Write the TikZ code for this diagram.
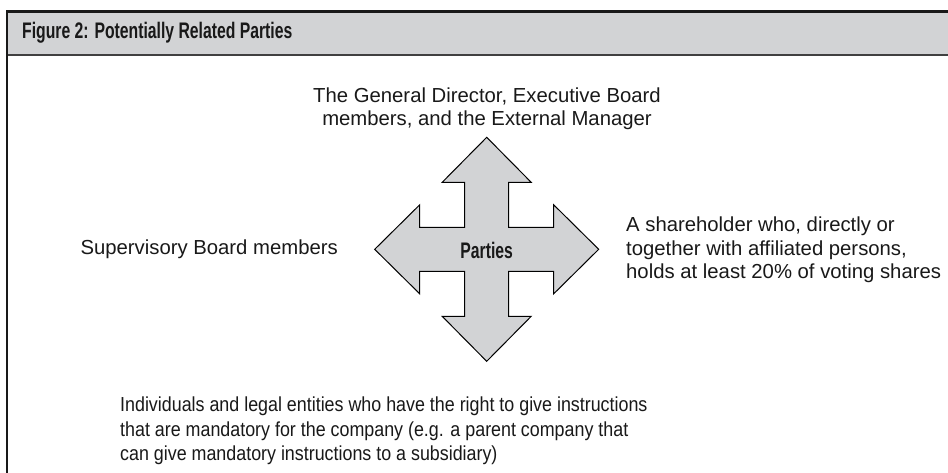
\documentclass[tikz,border=0pt]{standalone}
\usepackage{fontspec}
\setmainfont{Liberation Sans}
\newfontfamily\headfont{Liberation Sans}[FakeStretch=0.7]
\newfontfamily\narrowfont{Liberation Sans}[FakeStretch=0.88]
\definecolor{panelgray}{HTML}{D2D3D5}
\begin{document}
\begin{tikzpicture}[x=1pt, y=-1pt,
  textstyle/.style={inner sep=0pt, text=black!90, font=\fontsize{20.3}{23.5}\selectfont},
  crossstyle/.style={fill=panelgray, draw=black, line width=1pt, line join=miter}]
  \clip (0,0) rectangle (948,472);
  \fill [white] (0,0) rectangle (948,472);

  % frame and title band
  \fill [panelgray] (7,11.5) rectangle (960,55);
  \draw [black!75, line width=2.7pt] (7,55) -- (960,55);
  \draw [black!90, line width=2.7pt] (7,490) -- (7,11.5) -- (960,11.5);
  \node [anchor=west, inner sep=0pt, text=black!90, font=\headfont\bfseries\fontsize{22.5}{24}\selectfont] (Title) at (22,33) {Figure 2: Potentially Related Parties};

  % four-way arrow
  \begin{scope}[shift={(486.7,249.3)}]
    \draw [crossstyle] (0,-112) -- (44.5,-67) -- (22,-67) -- (22,-22) -- (67,-22) -- (67,-44.5)
      -- (112,0) -- (67,44.5) -- (67,22) -- (22,22) -- (22,67) -- (44.5,67)
      -- (0,112) -- (-44.5,67) -- (-22,67) -- (-22,22) -- (-67,22) -- (-67,44.5)
      -- (-112,0) -- (-67,-44.5) -- (-67,-22) -- (-22,-22) -- (-22,-67) -- (-44.5,-67) -- cycle;
    \node [inner sep=0pt, text=black!90, font=\headfont\bfseries\fontsize{22.5}{24}\selectfont] (Parties) at (0,1) {Parties};
  \end{scope}

  \node [textstyle, align=center] (Board) at (487,108.5) {The General Director, Executive Board\\members, and the External Manager};
  \node [textstyle, anchor=east] (Supervisory) at (338,249) {Supervisory Board members};
  \node [textstyle, align=left, anchor=west] (Shareholder) at (626,250) {A shareholder who, directly or\\together with affiliated persons,\\holds at least 20\% of voting shares};
  \node [textstyle, align=left, anchor=west, font=\narrowfont\fontsize{20.3}{24.5}\selectfont] (Instructions) at (120,431) {Individuals and legal entities who have the right to give instructions\\that are mandatory for the company (e.g. a parent company that\\can give mandatory instructions to a subsidiary)};
\end{tikzpicture}
\end{document}
